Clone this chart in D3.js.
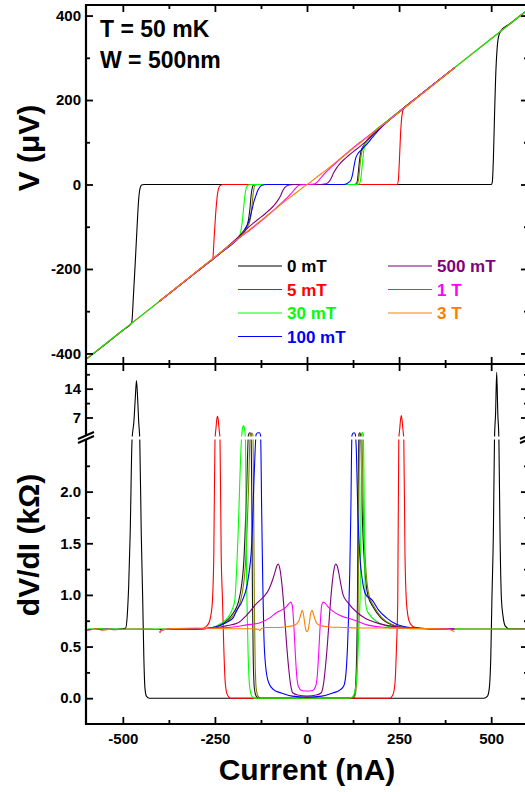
<!DOCTYPE html>
<html>
<head>
<meta charset="utf-8">
<style>
body { margin: 0; background: #fff; }
svg text { font-family: Arial, "Liberation Sans", sans-serif; font-weight: bold; }
</style>
</head>
<body>
<svg width="525" height="792"></svg>
<script src="https://d3js.org/d3.v7.min.js"></script>
<script>

// legend order and colours (last two curves carry no legend entry)
var fields = ["0 mT", "5 mT", "30 mT", "100 mT", "500 mT", "1 T", "3 T"];
var colors = ["#000000", "#ff0000", "#00ff00", "#0000ff", "#800080", "#ff00ff", "#ff8000", "#1a1a1a", "#808000"];

// upper panel: V (uV) vs current (nA)
var ivBlack = [[-600,-414],[-550,-380],[-500,-345],[-476,-328],[-471,-260],[-466,-180],[-461,-95],[-457,-35],[-453,-8],[-449,-1],[-443,0],[500,0],[503,5],[506,60],[509,160],[512,250],[516,320],[520,350],[526,363],[550,380],[600,414]];
var ivRed = [[-600,-414],[-500,-345],[-400,-276],[-300,-207],[-270,-186],[-256,-177],[-252,-125],[-248,-70],[-244,-30],[-240,-9],[-235,-2],[-228,0],[245,0],[248,10],[251,60],[254,120],[258,165],[263,181],[275,190],[300,207],[400,276],[500,345],[600,414]];
var ivGreen = [[-600,-414],[-500,-345],[-400,-276],[-300,-207],[-230,-159],[-200,-138],[-186,-127],[-180,-112],[-176,-90],[-172,-55],[-168,-22],[-164,-6],[-159,-1],[-152,0],[138,0],[143,3],[147,20],[151,55],[155,85],[160,100],[168,112],[180,124],[220,152],[300,207],[400,276],[500,345],[600,414]];
var ivBlue = [[-400,-276],[-300,-207],[-230,-159],[-200,-139],[-185,-125],[-173,-111],[-163,-97],[-155,-80],[-149,-58],[-144,-40],[-139,-27],[-134,-15],[-129,-7],[-122,-2],[-112,0],[100,0],[108,2],[115,6],[120,12],[124,25],[128,45],[132,62],[138,73],[148,82],[162,95],[178,112],[196,130],[220,150],[260,178],[300,207],[400,276]];
var ivPurple = [[-400,-276],[-300,-207],[-250,-172],[-220,-150],[-190,-127],[-162,-104],[-145,-91],[-126,-78],[-112,-68],[-99,-58],[-90,-50],[-81,-40],[-72,-27],[-64,-12],[-56,-4],[-48,-1],[-38,0],[38,0],[48,1],[56,4],[64,12],[72,27],[81,40],[90,50],[99,58],[112,68],[126,78],[145,91],[162,104],[190,127],[220,150],[250,172],[300,207],[400,276]];
var ivMagenta = [[-400,-276],[-300,-207],[-250,-172],[-220,-151],[-180,-124],[-144,-100],[-108,-74],[-72,-46],[-44,-22],[-34,-12],[-28,-6],[-22,-2],[-14,-0.5],[0,0],[14,0.5],[22,2],[28,6],[34,12],[44,22],[72,46],[108,74],[144,100],[180,124],[220,151],[250,172],[300,207],[400,276]];
var ivOrange = [[-400,-276],[-300,-206],[-200,-137],[-100,-68],[-50,-33],[-20,-13],[-10,-6],[0,0],[10,6],[20,13],[50,33],[100,68],[200,137],[300,206],[400,276]];
var ivDark = [[-400,-276],[-300,-207],[-230,-159],[-190,-130],[-175,-117],[-165,-103],[-159,-84],[-155,-58],[-152,-28],[-149,-9],[-146,-2],[-140,0],[128,0],[134,2],[137,10],[140,35],[143,60],[147,80],[155,94],[170,110],[190,128],[230,158],[300,207],[400,276]];
var ivOlive = [[-400,-276],[-300,-207],[-230,-159],[-190,-130],[-172,-115],[-161,-100],[-154,-82],[-150,-56],[-147,-28],[-144,-9],[-141,-2],[-135,0],[130,0],[136,2],[140,12],[143,38],[146,62],[150,82],[158,96],[172,112],[192,130],[230,158],[300,207],[400,276]];

// lower panel: dV/dI (kOhm) vs current (nA)
var didvBlack = [[-600,0.665],[-560,0.67],[-520,0.668],[-500,0.672],[-492,0.68],[-488,0.8],[-484,1.1],[-480,1.6],[-475,2.5],[-470,6],[-466,12],[-463,16],[-460,12],[-457,6],[-454,2.5],[-450,1.6],[-446,0.95],[-443,0.4],[-440,0.1],[-436,0.02],[-428,0],[480,0],[490,0.02],[495,0.1],[499,0.4],[502,0.95],[506,1.6],[509,2.5],[512,8],[515,18],[518,8],[521,2.5],[524,1.6],[528,0.95],[532,0.8],[538,0.7],[550,0.67],[600,0.67]];
var didvRed = [[-600,0.655],[-585,0.665],[-570,0.672],[-555,0.66],[-540,0.668],[-520,0.664],[-480,0.67],[-400,0.668],[-320,0.67],[-285,0.675],[-275,0.69],[-265,0.74],[-259,0.85],[-256.6,0.95],[-253,1.4],[-249.8,2.5],[-247,4.5],[-245,6.5],[-243,7.3],[-241,6.5],[-239,4.5],[-236.2,2.5],[-233,1.4],[-229.4,0.95],[-226,0.5],[-222,0.15],[-216,0.03],[-208,0],[225,0],[233,0.03],[239,0.15],[243,0.5],[246.4,0.95],[249.2,2.5],[252,4.5],[254,6.5],[256,7.5],[258,6.5],[260,4.5],[262.8,2.5],[266,1.4],[269.6,0.95],[272,0.85],[278,0.74],[290,0.69],[320,0.675],[400,0.67],[500,0.67],[600,0.67]];
var didvGreen = [[-600,0.66],[-590,0.672],[-575,0.665],[-560,0.675],[-545,0.662],[-530,0.67],[-500,0.668],[-420,0.67],[-330,0.672],[-280,0.675],[-260,0.68],[-235,0.72],[-215,0.78],[-203,0.86],[-196,0.95],[-188,1.5],[-178,2.5],[-176,3.8],[-174,4.8],[-172.5,5],[-171,4.8],[-169,3.8],[-167,2.5],[-165,1.5],[-163,0.95],[-160,0.45],[-156,0.12],[-150,0.02],[-142,0],[115,0],[125,0.02],[132,0.1],[138,0.4],[141,0.7],[144,0.95],[147,2],[149,2.9],[151,3.4],[153,2.9],[155,2],[158,0.95],[163,0.85],[172,0.8],[190,0.74],[215,0.7],[260,0.68],[350,0.672],[450,0.67],[600,0.668]];
var didvBlue = [[-400,0.665],[-300,0.67],[-250,0.69],[-220,0.73],[-200,0.78],[-191,0.85],[-175,0.95],[-160,1.15],[-150,1.5],[-143,2.2],[-138,2.9],[-133,3.3],[-129,3.3],[-126,2.6],[-123,1.8],[-120,1.1],[-117,0.6],[-112,0.3],[-104,0.15],[-90,0.08],[-70,0.05],[-40,0.02],[0,0.01],[40,0.02],[70,0.05],[90,0.08],[100,0.12],[106,0.25],[110,0.5],[113,0.8],[116,1.2],[119,1.8],[122,2.6],[125,3.2],[128,3.3],[131,3.0],[134,2.4],[138,1.8],[143,1.4],[150,1.15],[160,1.0],[177,0.95],[195,0.85],[215,0.78],[240,0.72],[270,0.69],[320,0.675],[400,0.67]];
var didvPurple = [[-400,0.635],[-392,0.66],[-370,0.67],[-300,0.672],[-250,0.68],[-220,0.7],[-187,0.73],[-165,0.8],[-136,0.92],[-118,0.98],[-104,1.05],[-94,1.14],[-87,1.22],[-82,1.28],[-78,1.3],[-74,1.26],[-68,1.1],[-62,0.85],[-56,0.55],[-50,0.3],[-44,0.12],[-38,0.05],[-25,0.03],[0,0.02],[25,0.03],[38,0.05],[44,0.12],[50,0.3],[56,0.55],[62,0.85],[68,1.1],[74,1.26],[78,1.3],[82,1.28],[87,1.2],[92,1.1],[98,1.0],[110,0.93],[136,0.83],[160,0.77],[180,0.74],[210,0.71],[250,0.69],[320,0.675],[400,0.67]];
var didvMagenta = [[-400,0.64],[-393,0.665],[-350,0.668],[-300,0.672],[-250,0.68],[-200,0.69],[-163,0.71],[-128,0.73],[-100,0.78],[-82,0.83],[-66,0.86],[-55,0.89],[-48,0.92],[-44,0.93],[-40,0.9],[-36,0.72],[-32,0.45],[-28,0.22],[-23,0.11],[-15,0.075],[0,0.07],[15,0.075],[23,0.11],[28,0.22],[32,0.45],[36,0.72],[40,0.9],[44,0.93],[49,0.92],[56,0.89],[71,0.84],[90,0.8],[125,0.76],[163,0.71],[200,0.69],[250,0.68],[300,0.672],[400,0.67]];
var didvOrange = [[-400,0.63],[-394,0.66],[-360,0.675],[-300,0.68],[-250,0.676],[-200,0.672],[-150,0.672],[-132,0.668],[-128,0.655],[-124,0.675],[-110,0.685],[-90,0.685],[-60,0.69],[-40,0.7],[-28,0.72],[-21,0.76],[-16,0.82],[-13,0.85],[-10,0.82],[-6,0.72],[-3,0.66],[0,0.645],[3,0.66],[6,0.72],[10,0.82],[13.5,0.85],[17,0.82],[22,0.76],[28,0.72],[40,0.7],[60,0.69],[100,0.685],[150,0.68],[200,0.68],[250,0.678],[300,0.675],[380,0.67],[394,0.655],[400,0.64]];
var didvDark = [[-400,0.665],[-300,0.67],[-260,0.68],[-230,0.72],[-205,0.8],[-185,0.95],[-172,1.3],[-164,2.0],[-159,2.8],[-155,3.3],[-152,3.0],[-150,2.0],[-148,0.95],[-146,0.4],[-143,0.1],[-138,0.02],[-130,0],[125,0],[130,0.05],[134,0.3],[137,0.95],[139,2.0],[141,3.0],[143,3.3],[146,2.6],[150,1.8],[156,1.3],[165,1.0],[180,0.88],[200,0.78],[230,0.71],[270,0.68],[400,0.67]];
var didvOlive = [[-400,0.665],[-300,0.67],[-260,0.68],[-228,0.72],[-200,0.8],[-180,0.95],[-167,1.3],[-159,2.0],[-154,2.8],[-150,3.2],[-147,2.9],[-145,2.0],[-143,0.95],[-141,0.4],[-138,0.1],[-133,0.02],[-125,0],[127,0],[132,0.05],[136,0.3],[139,0.95],[141,2.0],[143,2.9],[146,3.2],[149,2.6],[153,1.8],[159,1.3],[168,1.0],[183,0.88],[203,0.78],[232,0.71],[272,0.68],[400,0.67]];

// ticks
var xMajor = [-500, -250, 0, 250, 500],
    xMinor = [-375, -125, 125, 375],
    vMajor = [-400, -200, 0, 200, 400],
    vMinor = [-300, -100, 100, 300],
    rLowMajor = [0, 0.5, 1, 1.5, 2],
    rLowMinor = [0.25, 0.75, 1.25, 1.75, 2.25],
    rHighMajor = [7, 14],
    rHighMinor = [10.5, 17.5];

// drawing order: extra unlabelled sweeps first, legend curves on top
var drawOrder = [7, 8, 0, 1, 2, 3, 4, 5, 6];
var ivData = [ivBlack, ivRed, ivGreen, ivBlue, ivPurple, ivMagenta, ivOrange, ivDark, ivOlive];
var didvData = [didvBlack, didvRed, didvGreen, didvBlue, didvPurple, didvMagenta, didvOrange, didvDark, didvOlive];

var svg = d3.select("svg");

var plotLeft = 86, plotRight = 528, plotTop = 5, plotMid = 364, plotBottom = 724,
    gapTop = 436, gapBottom = 440;

var x = d3.scaleLinear().domain([-600, 600]).range([plotLeft, plotRight]);
var yV = d3.scaleLinear().domain([-425, 425]).range([plotMid, plotTop]);
var yLow = d3.scaleLinear().domain([-0.25, 2.5]).range([plotBottom, gapBottom]);
var yHigh = d3.scaleLinear().domain([2.5, 20]).range([gapTop, plotMid]);

// broken y axis of the lower panel
function yR(v) { return v <= 2.5 ? yLow(v) : yHigh(v); }

var defs = svg.append("defs");
defs.append("clipPath").attr("id", "clipTop")
  .append("rect").attr("x", plotLeft).attr("y", plotTop)
  .attr("width", plotRight - plotLeft).attr("height", plotMid - plotTop);
defs.append("clipPath").attr("id", "clipBottom")
  .append("rect").attr("x", plotLeft).attr("y", plotMid)
  .attr("width", plotRight - plotLeft).attr("height", plotBottom - plotMid);

var lineV = d3.line()
    .x(function(d) { return x(d[0]); })
    .y(function(d) { return yV(d[1]); })
    .curve(d3.curveMonotoneX);

var lineR = d3.line()
    .x(function(d) { return x(d[0]); })
    .y(function(d) { return yR(d[1]); })
    .curve(d3.curveMonotoneX);

svg.append("g").attr("clip-path", "url(#clipTop)")
  .selectAll("path").data(drawOrder).enter().append("path")
    .attr("d", function(k) { return lineV(ivData[k]); })
    .attr("fill", "none")
    .attr("stroke", function(k) { return colors[k]; })
    .attr("stroke-width", 1.1);

svg.append("g").attr("clip-path", "url(#clipBottom)")
  .selectAll("path").data(drawOrder).enter().append("path")
    .attr("d", function(k) { return lineR(didvData[k]); })
    .attr("fill", "none")
    .attr("stroke", function(k) { return colors[k]; })
    .attr("stroke-width", 1.1);

// white gap where the lower axis is broken
svg.append("rect")
    .attr("x", plotLeft).attr("y", gapTop + 0.5)
    .attr("width", plotRight - plotLeft).attr("height", gapBottom - gapTop - 1)
    .attr("fill", "#fff");

function noLabel() { return ""; }

function drawAxis(axis, tx, ty, vals, size, fmt) {
  var g = svg.append("g")
      .attr("transform", "translate(" + tx + "," + ty + ")")
      .call(axis.tickValues(vals).tickSize(size).tickPadding(5).tickFormat(fmt || noLabel));
  // the axis call sets its own font, so override afterwards
  g.attr("font-family", "Arial, 'Liberation Sans', sans-serif").attr("font-size", 15);
  g.select(".domain").remove();
  g.selectAll("line").attr("stroke-width", 1.8);
  g.selectAll("text").attr("font-weight", "bold").attr("fill", "#000");
  return g;
}

var fmtInt = function(d) { return String(d); },
    fmtOne = function(d) { return d.toFixed(1); };

// upper panel axes
drawAxis(d3.axisLeft(yV), plotLeft, 0, vMajor, -7, fmtInt);
drawAxis(d3.axisLeft(yV), plotLeft, 0, vMinor, -4);
drawAxis(d3.axisRight(yV), plotRight, 0, vMajor, -7);
drawAxis(d3.axisRight(yV), plotRight, 0, vMinor, -4);
drawAxis(d3.axisTop(x), 0, plotTop, xMajor, -7);
drawAxis(d3.axisTop(x), 0, plotTop, xMinor, -4);
drawAxis(d3.axisBottom(x), 0, plotMid, xMajor, -7);
drawAxis(d3.axisBottom(x), 0, plotMid, xMinor, -4);

// lower panel axes
drawAxis(d3.axisTop(x), 0, plotMid, xMajor, -7);
drawAxis(d3.axisTop(x), 0, plotMid, xMinor, -4);
drawAxis(d3.axisBottom(x), 0, plotBottom, xMajor, -7, fmtInt).selectAll("text").attr("dy", "1.0em");
drawAxis(d3.axisBottom(x), 0, plotBottom, xMinor, -4);
drawAxis(d3.axisLeft(yLow), plotLeft, 0, rLowMajor, -7, fmtOne);
drawAxis(d3.axisLeft(yLow), plotLeft, 0, rLowMinor, -4);
drawAxis(d3.axisLeft(yHigh), plotLeft, 0, rHighMajor, -7, fmtInt);
drawAxis(d3.axisLeft(yHigh), plotLeft, 0, rHighMinor, -4);
drawAxis(d3.axisRight(yLow), plotRight, 0, rLowMajor, -7);
drawAxis(d3.axisRight(yLow), plotRight, 0, rLowMinor, -4);
drawAxis(d3.axisRight(yHigh), plotRight, 0, rHighMajor, -7);
drawAxis(d3.axisRight(yHigh), plotRight, 0, rHighMinor, -4);

// frame
var frame = svg.append("g").attr("stroke", "#000").attr("stroke-width", 2.2);
frame.append("line").attr("x1", plotLeft).attr("x2", plotLeft).attr("y1", plotTop - 1).attr("y2", plotBottom + 1);
frame.append("line").attr("x1", plotRight).attr("x2", plotRight).attr("y1", plotTop - 1).attr("y2", plotBottom + 1);
frame.append("line").attr("x1", plotLeft).attr("x2", plotRight).attr("y1", plotTop).attr("y2", plotTop);
frame.append("line").attr("x1", plotLeft).attr("x2", plotRight).attr("y1", plotMid).attr("y2", plotMid);
frame.append("line").attr("x1", plotLeft).attr("x2", plotRight).attr("y1", plotBottom).attr("y2", plotBottom);

// axis break marks
function drawBreak(cx) {
  var cy = (gapTop + gapBottom) / 2;
  svg.append("polygon")
      .attr("points", [[cx - 8, cy + 5], [cx + 8, cy - 2], [cx + 8, cy - 6], [cx - 8, cy + 1]].join(" "))
      .attr("fill", "#fff");
  svg.append("line")
      .attr("x1", cx - 8).attr("y1", cy + 5).attr("x2", cx + 8).attr("y2", cy - 2)
      .attr("stroke", "#000").attr("stroke-width", 2);
  svg.append("line")
      .attr("x1", cx - 8).attr("y1", cy + 1).attr("x2", cx + 8).attr("y2", cy - 6)
      .attr("stroke", "#000").attr("stroke-width", 2);
}
drawBreak(plotLeft);
drawBreak(plotRight);

// annotations
svg.append("text").attr("x", 100).attr("y", 37).attr("font-size", 23).text("T = 50 mK");
svg.append("text").attr("x", 100).attr("y", 68).attr("font-size", 23).text("W = 500nm");

// axis titles
svg.append("text")
    .attr("transform", "translate(39,148) rotate(-90)")
    .attr("text-anchor", "middle").attr("font-size", 30)
    .text("V (\u03bcV)");
svg.append("text")
    .attr("transform", "translate(39,545) rotate(-90)")
    .attr("text-anchor", "middle").attr("font-size", 30)
    .text("dV/dI (k\u03a9)");
svg.append("text")
    .attr("x", x(0)).attr("y", 780)
    .attr("text-anchor", "middle").attr("font-size", 30)
    .text("Current (nA)");

// legend, two columns
var legend = svg.append("g").selectAll("g").data(fields).enter().append("g")
    .attr("transform", function(d, i) {
      var col = i < 4 ? 0 : 1, row = i < 4 ? i : i - 4;
      return "translate(" + (238 + col * 150) + "," + (272 + row * 23.5) + ")";
    });
legend.append("line")
    .attr("x1", 0).attr("x2", 44).attr("y1", -6).attr("y2", -6)
    .attr("stroke", function(d, i) { return colors[i]; })
    .attr("stroke-width", 1.1);
legend.append("text")
    .attr("x", 49).attr("font-size", 17)
    .attr("fill", function(d, i) { return colors[i]; })
    .text(function(d) { return d; });

</script>
</body>
</html>
